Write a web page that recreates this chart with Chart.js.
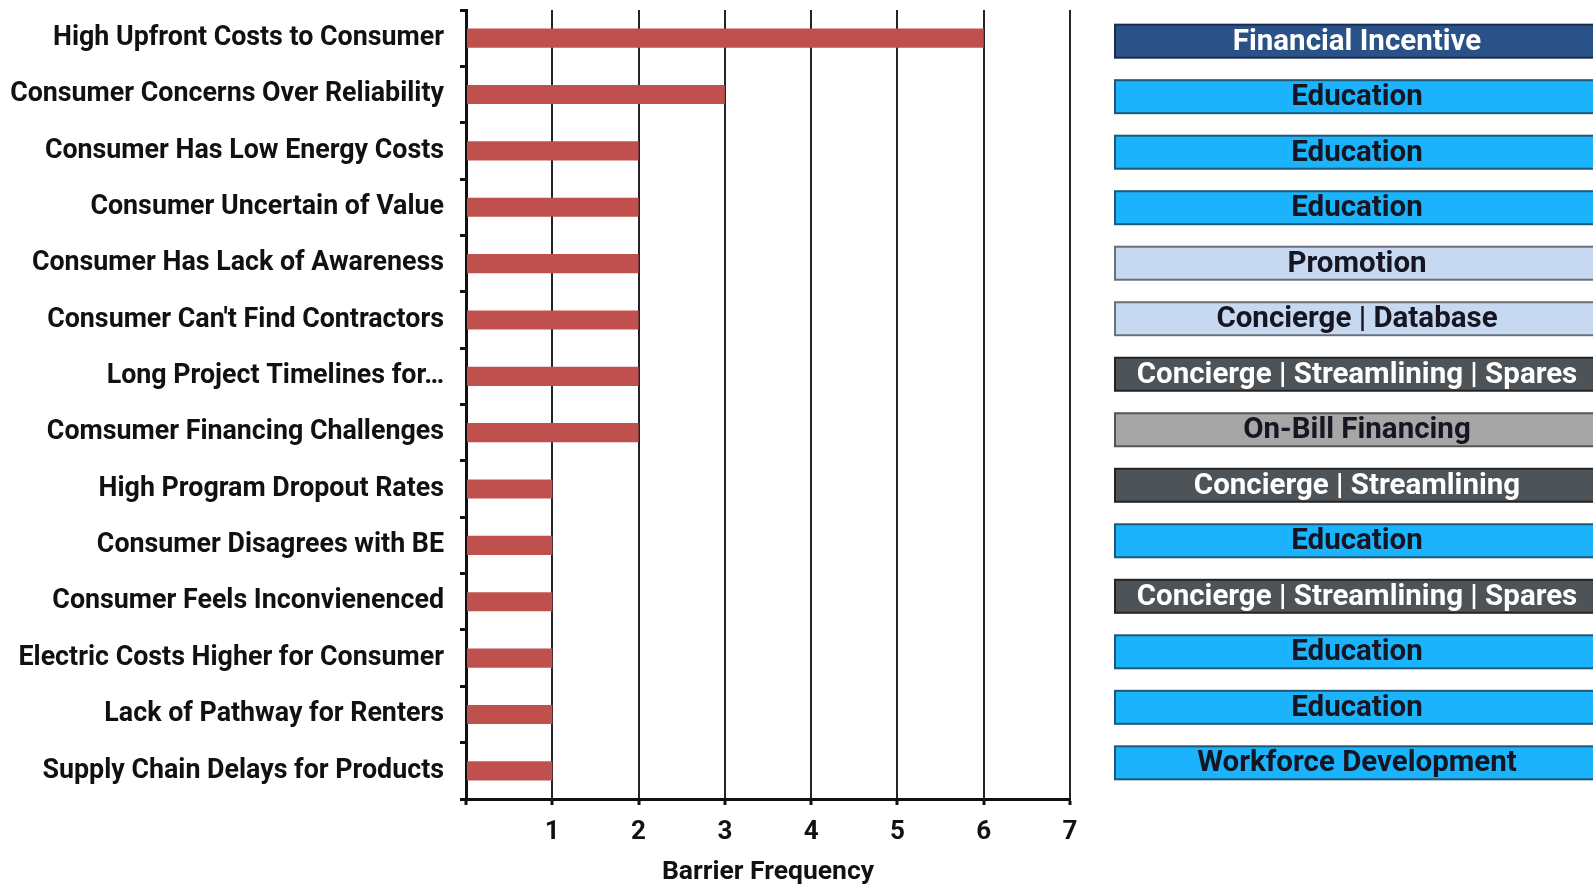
<!DOCTYPE html>
<html>
<head>
<meta charset="utf-8">
<script src="https://cdn.jsdelivr.net/npm/chart.js@4/dist/chart.umd.min.js"></script>
<style>
  html, body { margin: 0; padding: 0; background: #ffffff; }
  #wrap { width: 1593px; height: 888px; }
</style>
</head>
<body>
<div id="wrap"><canvas id="c" width="1593" height="888"></canvas></div>
<script>
// Barriers, how often each one came up, and the strategy that answers it
const barriers = [
  'High Upfront Costs to Consumer',
  'Consumer Concerns Over Reliability',
  'Consumer Has Low Energy Costs',
  'Consumer Uncertain of Value',
  'Consumer Has Lack of Awareness',
  "Consumer Can't Find Contractors",
  'Long Project Timelines for\u2026',
  'Comsumer Financing Challenges',
  'High Program Dropout Rates',
  'Consumer Disagrees with BE',
  'Consumer Feels Inconvienenced',
  'Electric Costs Higher for Consumer',
  'Lack of Pathway for Renters',
  'Supply Chain Delays for Products'
];
const frequency = [6, 3, 2, 2, 2, 2, 2, 2, 1, 1, 1, 1, 1, 1];
const strategies = [
  'Financial Incentive',
  'Education',
  'Education',
  'Education',
  'Promotion',
  'Concierge | Database',
  'Concierge | Streamlining | Spares',
  'On-Bill Financing',
  'Concierge | Streamlining',
  'Education',
  'Concierge | Streamlining | Spares',
  'Education',
  'Education',
  'Workforce Development'
];
const frequencyTicks = [1, 2, 3, 4, 5, 6, 7];

// Colour scheme for each strategy box
const boxStyles = {
  'Financial Incentive':               { fill: '#2b5189', stroke: '#1a2c4b', text: '#ffffff' },
  'Education':                         { fill: '#1cb3fd', stroke: '#1d5876', text: '#161622' },
  'Workforce Development':             { fill: '#1cb3fd', stroke: '#1d5876', text: '#161622' },
  'Promotion':                         { fill: '#c6d9f1', stroke: '#6a707a', text: '#161622' },
  'Concierge | Database':              { fill: '#c6d9f1', stroke: '#6a707a', text: '#161622' },
  'Concierge | Streamlining | Spares': { fill: '#4e5357', stroke: '#232323', text: '#ffffff' },
  'Concierge | Streamlining':          { fill: '#4e5357', stroke: '#232323', text: '#ffffff' },
  'On-Bill Financing':                 { fill: '#a6a6a6', stroke: '#555555', text: '#161622' }
};

const FONT = 'Roboto, "Liberation Sans", sans-serif';

// Draws the strategy box beside each barrier row. The boxes sit on a
// slightly tighter pitch than the category bands, so each row's position is
// taken from the category scale and eased toward the middle of the column.
const strategyBoxes = {
  id: 'strategyBoxes',
  afterDraw(chart) {
    const ctx = chart.ctx;
    const y = chart.scales.y;
    const n = strategies.length;
    const x0 = 1115, x1 = 1600, h = 33, textX = 1357;
    ctx.save();
    ctx.font = 'bold 29.5px ' + FONT;
    ctx.textAlign = 'center';
    ctx.textBaseline = 'middle';
    strategies.forEach((s, i) => {
      const st = boxStyles[s];
      const cy = y.getPixelForValue(i) + 3 - 11 * i / (n - 1);
      ctx.fillStyle = st.fill;
      ctx.fillRect(x0, cy - h / 2, x1 - x0, h);
      ctx.lineWidth = 2;
      ctx.strokeStyle = st.stroke;
      ctx.strokeRect(x0, cy - h / 2, x1 - x0, h);
      ctx.fillStyle = st.text;
      ctx.fillText(s, textX, cy + 1);
    });
    ctx.restore();
  }
};

new Chart(document.getElementById('c'), {
  type: 'bar',
  data: {
    labels: barriers,
    datasets: [{
      data: frequency,
      backgroundColor: '#c0504d',
      borderWidth: 0,
      barPercentage: 0.34,
      categoryPercentage: 1
    }]
  },
  options: {
    indexAxis: 'y',
    responsive: false,
    animation: false,
    devicePixelRatio: 1,
    layout: { padding: { top: 10, right: 523, left: 0, bottom: 0 } },
    plugins: { legend: { display: false }, tooltip: { enabled: false } },
    scales: {
      x: {
        min: 0,
        max: 7,
        afterFit(scale) { scale.height = 89; },
        afterBuildTicks(scale) {
          scale.ticks = [0].concat(frequencyTicks).map(v => ({ value: v }));
        },
        ticks: {
          callback: v => (v === 0 ? '' : String(v)),
          color: '#111111',
          font: { family: FONT, size: 26, weight: 'bold' },
          padding: 12,
          maxRotation: 0
        },
        grid: {
          color: '#23232b',
          lineWidth: 2,
          tickLength: 6,
          tickColor: '#111111',
          tickWidth: 3
        },
        border: { color: '#111111', width: 3 },
        title: {
          display: true,
          text: 'Barrier Frequency',
          color: '#111111',
          font: { family: FONT, size: 26.5, weight: 'bold' },
          padding: { top: 4, bottom: 0 }
        }
      },
      y: {
        afterFit(scale) {
          scale.width = 466;
          scale.paddingTop = 0;
          scale.paddingBottom = 0;
        },
        ticks: {
          color: '#111111',
          font: { family: FONT, size: 26.8, weight: 'bold' },
          padding: 16,
          autoSkip: false
        },
        grid: {
          offset: true,
          drawOnChartArea: false,
          tickLength: 6,
          tickColor: '#111111',
          tickWidth: 3
        },
        border: { color: '#111111', width: 3 }
      }
    }
  },
  plugins: [strategyBoxes]
});
</script>
</body>
</html>
